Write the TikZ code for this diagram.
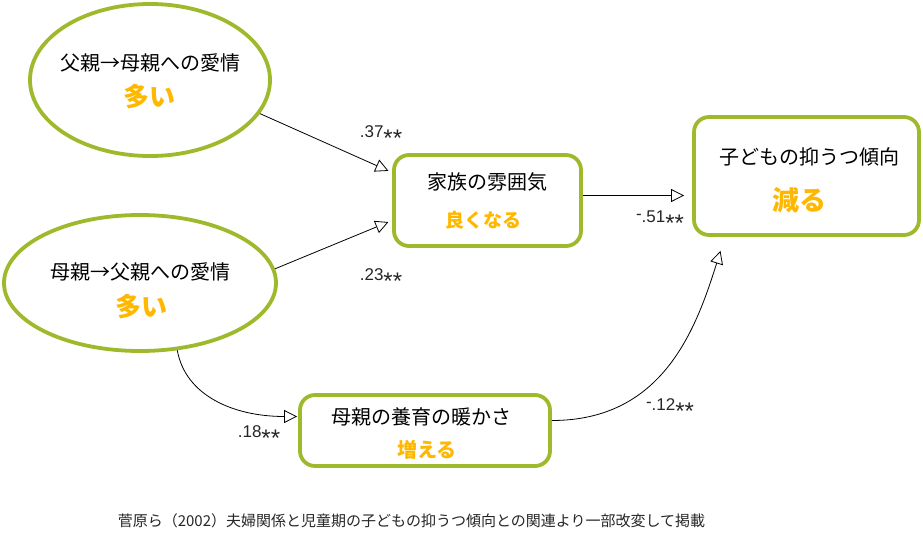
\documentclass[tikz,border=0pt]{standalone}
\usepackage{fontspec}
\setmainfont{Noto Sans CJK JP}
\newfontfamily\lat{Liberation Sans}
\usetikzlibrary{shapes.geometric,arrows.meta,calc}
\definecolor{leaf}{RGB}{158,186,44}
\definecolor{gold}{RGB}{255,184,0}
\newcommand\twostar{\raisebox{-9.5pt}{\fontsize{24}{24}\selectfont **}}
\newcommand\hidash{\raisebox{3pt}{-}}
\tikzset{
  oval/.style={ellipse,draw=leaf,line width=3.8pt,inner sep=0pt,fill=white},
  boxnode/.style={rectangle,draw=leaf,line width=3.8pt,rounded corners=15pt,inner sep=0pt,fill=white},
  maintext/.style={font=\fontsize{20}{24}\selectfont,text=black,inner sep=0pt},
  hot/.style={font=\fontsize{#1}{#1}\selectfont\bfseries,text=gold,inner sep=0pt},
  coef/.style={font=\lat\fontsize{17}{18}\selectfont,text=black!85,inner sep=0pt,anchor=base},
  arr/.style={line width=0.8pt,-{Triangle[open,length=13pt,width=13pt]}},
  captext/.style={font=\fontsize{15}{18}\selectfont,text=black!85,inner sep=0pt}
}
\begin{document}
\begin{tikzpicture}[x=1pt,y=-1pt]
\useasboundingbox (0,0) rectangle (923,535);
% shapes
\node[oval,minimum width=240pt,minimum height=152pt] (e1) at (150,80) {};
\node[oval,minimum width=272pt,minimum height=136pt] (e2) at (140,283) {};
\node[boxnode,minimum width=187pt,minimum height=91pt] (fam) at (487.5,200.5) {};
\node[boxnode,minimum width=225pt,minimum height=118pt] (res) at (806.5,176) {};
\node[boxnode,minimum width=250pt,minimum height=71pt] (nur) at (425,430.5) {};
% texts
\node[maintext] (t1) at (150,63) {父親→母親への愛情};
\node[hot=26] (h1) at (149,97) {多い};
\node[maintext] (t2) at (140,272) {母親→父親への愛情};
\node[hot=26] (h2) at (141,307) {多い};
\node[maintext] (t3) at (487,182) {家族の雰囲気};
\node[hot=19] (h3) at (483,220) {良くなる};
\node[maintext] (t4) at (809,157) {子どもの抑うつ傾向};
\node[hot=27] (h4) at (799,200) {減る};
\node[maintext] (t5) at (421,417) {母親の養育の暖かさ};
\node[hot=20] (h5) at (427,450) {増える};
% connectors
\draw[arr,shorten >=4pt] (e1.-17) -- ($(fam.west)+(0,-28)$);
\draw[arr,shorten >=4pt] (e2.6) -- ($(fam.west)+(0,20)$);
\draw[arr,shorten >=8pt] ($(fam.east)+(0,-5)$) -- ($(res.west)+(0,19.5)$);
\draw[arr,shorten >=1pt] (e2.-61) .. controls +(8,45) and +(-65,0) .. ($(nur.west)+(0,-14)$);
\draw[arr] ($(nur.east)+(0,-10)$) .. controls +(110,0) and +(-25,80) .. ($(res.south)+(-86,14)$);
% coefficients (base anchored)
\node[coef] (c1) at (381,137) {.37\twostar};
\node[coef] (c2) at (381,280) {.23\twostar};
\node[coef] (c3) at (660,222) {\hidash.51\twostar};
\node[coef] (c4) at (259,437) {.18\twostar};
\node[coef] (c5) at (670,410) {\hidash.12\twostar};
% caption
\node[captext] (src) at (411.5,521) {菅原ら（2002）夫婦関係と児童期の子どもの抑うつ傾向との関連より一部改変して掲載};
\end{tikzpicture}
\end{document}
